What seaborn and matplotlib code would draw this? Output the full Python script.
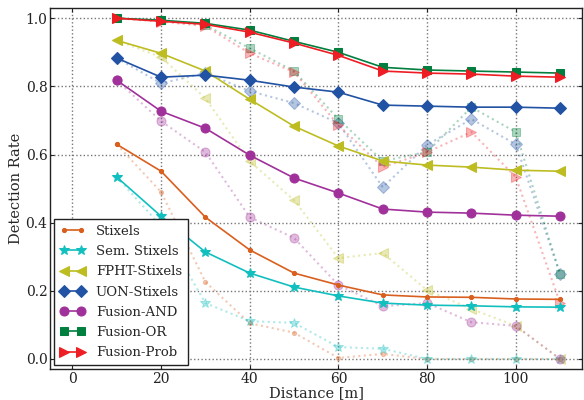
import matplotlib
matplotlib.use("Agg")
import matplotlib.pyplot as plt
import seaborn as sns
import numpy as np
import pandas as pd

distance = [10, 20, 30, 40, 50, 60, 70, 80, 90, 100, 110]
names = ["Stixels", "Sem. Stixels", "FPHT-Stixels", "UON-Stixels",
         "Fusion-AND", "Fusion-OR", "Fusion-Prob"]

# solid series
stixels = [0.63, 0.551, 0.416, 0.32, 0.252, 0.217, 0.188, 0.182, 0.181, 0.176, 0.175]
sem_stixels = [0.534, 0.419, 0.314, 0.252, 0.211, 0.185, 0.164, 0.158, 0.156, 0.153, 0.152]
fpht = [0.935, 0.897, 0.845, 0.762, 0.683, 0.625, 0.581, 0.569, 0.563, 0.554, 0.551]
uon = [0.883, 0.827, 0.833, 0.818, 0.798, 0.783, 0.745, 0.742, 0.739, 0.739, 0.736]
f_and = [0.818, 0.727, 0.677, 0.598, 0.531, 0.487, 0.44, 0.431, 0.428, 0.422, 0.419]
f_or = [1.0, 0.994, 0.985, 0.965, 0.932, 0.9, 0.856, 0.848, 0.845, 0.842, 0.839]
f_prob = [1.0, 0.991, 0.982, 0.959, 0.927, 0.891, 0.845, 0.839, 0.836, 0.83, 0.827]

# dotted (faint) series
stixels_d = [0.63, 0.49, 0.226, 0.105, 0.077, 0.003, 0.015, 0.0, 0.0, 0.0, 0.0]
sem_stixels_d = [0.534, 0.39, 0.164, 0.111, 0.106, 0.035, 0.03, 0.0, 0.0, 0.0, 0.0]
fpht_d = [0.935, 0.886, 0.765, 0.58, 0.466, 0.296, 0.311, 0.202, 0.147, 0.097, 0.0]
uon_d = [0.883, 0.809, 0.839, 0.786, 0.751, 0.692, 0.504, 0.628, 0.704, 0.63, 0.249]
f_and_d = [0.818, 0.698, 0.607, 0.416, 0.355, 0.217, 0.155, 0.164, 0.108, 0.097, 0.0]
f_or_d = [1.0, 0.994, 0.98, 0.912, 0.845, 0.704, 0.581, 0.607, 0.739, 0.666, 0.249]
f_prob_d = [1.0, 0.99, 0.977, 0.897, 0.842, 0.686, 0.563, 0.607, 0.666, 0.534, 0.164]

solid = [stixels, sem_stixels, fpht, uon, f_and, f_or, f_prob]
dotted = [stixels_d, sem_stixels_d, fpht_d, uon_d, f_and_d, f_or_d, f_prob_d]
colors = ["#D95F1E", "#12BFBF", "#BDBD22", "#2152A3", "#A0309A", "#007F3F", "#EE1D23"]
markers = [".", "*", "<", "D", "o", "s", ">"]
msizes = [6, 7, 7, 6, 6.5, 6, 7]

sns.set_theme(style="white")
plt.rcParams["font.family"] = ["DejaVu Serif"]
plt.rcParams["mathtext.fontset"] = "dejavuserif"

fig = plt.figure(figsize=(5.84, 4.0), dpi=100)
ax = fig.add_axes([0.086, 0.077, 0.911, 0.903])

for i in range(len(names)):
    df_d = pd.DataFrame({"x": distance, "y": dotted[i]})
    sns.lineplot(data=df_d, x="x", y="y", ax=ax, color=colors[i], marker=markers[i],
                 markersize=msizes[i], linestyle=":", linewidth=1.5, alpha=0.33,
                 markeredgecolor=colors[i], legend=False)
for i in range(len(names)):
    df_s = pd.DataFrame({"x": distance, "y": solid[i]})
    sns.lineplot(data=df_s, x="x", y="y", ax=ax, color=colors[i], marker=markers[i],
                 markersize=msizes[i], linestyle="-", linewidth=1.2,
                 markeredgecolor=colors[i], label=names[i])

ax.set_xlim(-5, 115)
ax.set_ylim(-0.03, 1.03)
ax.set_xticks([0, 20, 40, 60, 80, 100])
ax.set_yticks([0.0, 0.2, 0.4, 0.6, 0.8, 1.0])
ax.set_yticklabels(["0.0", "0.2", "0.4", "0.6", "0.8", "1.0"])
ax.grid(True, linestyle=":", color="#777777", linewidth=1.0)
for s in ax.spines.values():
    s.set_color("#222222")
    s.set_linewidth(1.0)
ax.tick_params(direction="in", length=3, width=0.8, top=True, right=True,
               labelsize=10, colors="#222222", bottom=True, left=True, pad=2)
ax.set_xlabel("Distance [m]", fontsize=10.5, labelpad=0)
ax.set_ylabel("Detection Rate", fontsize=10.5, labelpad=2)

leg = ax.legend(loc="lower left", fontsize=9.5, frameon=True, fancybox=False,
                edgecolor="#222222", numpoints=2, borderpad=0.45, labelspacing=0.55,
                handlelength=1.9, handletextpad=0.8, borderaxespad=0.3)
leg.get_frame().set_linewidth(1.0)
leg.get_frame().set_alpha(1.0)

fig.savefig("out.png", dpi=100)
